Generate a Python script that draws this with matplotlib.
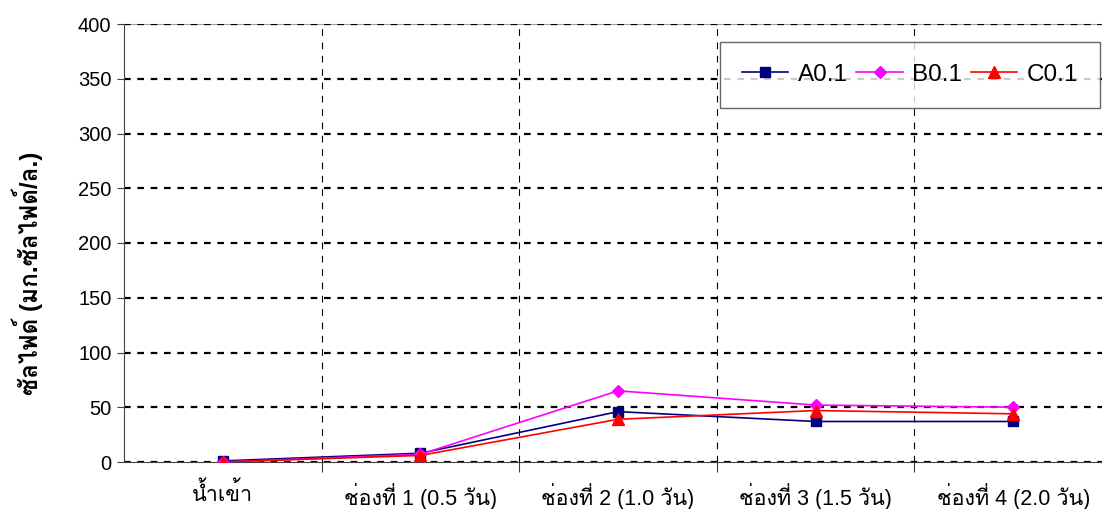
import matplotlib
matplotlib.use("Agg")
import matplotlib.pyplot as plt
from matplotlib import font_manager as fm
from matplotlib.ft2font import FT2Font

categories = ["น้ำเข้า", "ช่องที่ 1 (0.5 วัน)", "ช่องที่ 2 (1.0 วัน)",
              "ช่องที่ 3 (1.5 วัน)", "ช่องที่ 4 (2.0 วัน)"]
a01 = [1, 8, 46, 37, 37]
b01 = [0, 7, 65, 52, 50]
c01 = [0, 6, 39, 47, 44]
yticks = [0, 50, 100, 150, 200, 250, 300, 350, 400]
ylabel = "ซัลไฟด์ (มก.ซัลไฟด์/ล.)"

# look for installed fonts that can draw Thai
thai_fonts = set()
for f in fm.fontManager.ttflist:
    try:
        if 0x0E01 in FT2Font(f.fname).get_charmap():
            thai_fonts.add(f.name)
    except Exception:
        pass
prefer = ["Loma", "Garuda", "Tlwg Typo", "Umpush", "Waree", "Noto Sans Thai",
          "Noto Sans Thai UI", "Noto Sans Thai Looped"]
thai = [n for n in prefer if n in thai_fonts]
if not thai:
    thai = sorted(thai_fonts, key=lambda n: ("Serif" in n, "Sans" not in n, n))
fams = ["Liberation Sans"] + thai[:1] + ["DejaVu Sans"]
plt.rcParams["font.family"] = fams

fig = plt.figure(figsize=(11.02, 5.09), dpi=100)
ax = fig.add_axes([124 / 1102, 1 - 462 / 509, 988 / 1102, 438 / 509])

x = range(len(categories))
ax.plot(x, a01, color="#000080", marker="s", ms=6.5, lw=1.2, label="A0.1", zorder=3)
ax.plot(x, b01, color="#FF00FF", marker="D", ms=6.5, lw=1.2, label="B0.1", zorder=3)
ax.plot(x, c01, color="#FF0000", marker="^", ms=9, lw=1.2, label="C0.1", zorder=4)

ax.set_xlim(-0.5, len(categories) - 0.5)
ax.set_ylim(0, 400)
ax.set_yticks(yticks)
ax.tick_params(axis="y", labelsize=14.5, length=5, color="#404040", pad=4)

# ticks / vertical grid at category boundaries, labels at centers
ax.set_xticks([i + 0.5 for i in range(len(categories) - 1)])
ax.set_xticklabels([])
ax.set_xticks(list(x), minor=True)
ax.set_xticklabels(categories, minor=True, fontsize=15.5)
ax.tick_params(axis="x", which="major", length=7, color="#404040")
ax.tick_params(axis="x", which="minor", length=0, pad=15)

ax.grid(axis="y", color="black", linestyle=(0, (3, 3)), lw=1.6, zorder=1)
ax.grid(axis="x", which="major", color="black", linestyle=(0, (6, 6)), lw=0.8, zorder=1)

ax.spines["right"].set_visible(False)
ax.spines["top"].set_color("#a0a0a0")
ax.spines["top"].set_zorder(0.5)
ax.spines["left"].set_color("#404040")
ax.spines["bottom"].set_color("#404040")

ax.set_ylabel(ylabel, fontsize=17.5, fontweight="bold")
ax.yaxis.set_label_coords(-81 / 988, 0.43)

leg = ax.legend(loc="upper right", bbox_to_anchor=(1100 / 1102, 1 - 42 / 509),
                bbox_transform=fig.transFigure, ncol=3, fontsize=17.5,
                frameon=True, fancybox=False, edgecolor="#404040",
                handlelength=1.9, handletextpad=0.4, columnspacing=0.35,
                borderpad=0.9, borderaxespad=0)
leg.get_frame().set_linewidth(1.0)

fig.savefig("out.png", dpi=100)
